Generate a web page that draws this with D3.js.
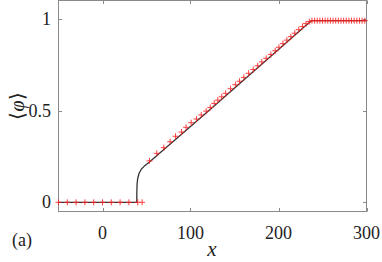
<!DOCTYPE html>
<html><head><meta charset="utf-8">
<script src="https://cdn.jsdelivr.net/npm/d3@7"></script>
<style>body{margin:0;background:#fff}</style>
</head><body>
<script>
// Data
const lineX = [-50, 39, 39, 39.3, 40, 41.5, 44, 48, 53, 120, 200, 228, 232, 235, 238, 300];
const lineY = [0, 0, 0.05, 0.1, 0.13, 0.157, 0.18, 0.2, 0.218, 0.497, 0.833, 0.951, 0.968, 0.98, 0.99, 0.99];
const crossX = [-50, -40, -30, -20, -10, 0, 10, 20, 30, 40, 45,
  53.4, 61.7, 69.7, 76.9, 83, 89.8, 95, 100.8, 106.8, 112.2, 117.8,
  122.5, 127, 131, 135.5, 140, 145.5, 151, 155.7, 160.6, 166, 171.3, 176.3, 181, 186, 191.3, 196.3, 200.5,
  205, 209.5, 214, 218.5, 223, 227.3, 231.3, 235,
  238, 241, 244, 247, 250, 253, 256, 259, 262, 265, 268, 271, 274, 277, 280, 283, 286, 289, 292, 295, 298];
const crossY = [0, 0, 0, 0, 0, 0, 0, 0, 0, 0, 0,
  0.226, 0.267, 0.298, 0.33, 0.36, 0.383, 0.409, 0.434, 0.454, 0.476, 0.497,
  0.517, 0.539, 0.557, 0.575, 0.594, 0.619, 0.641, 0.660, 0.681, 0.703, 0.724, 0.744, 0.765, 0.785, 0.806, 0.826, 0.845,
  0.865, 0.884, 0.903, 0.922, 0.941, 0.958, 0.974, 0.985,
  0.99, 0.99, 0.99, 0.99, 0.99, 0.99, 0.99, 0.99, 0.99, 0.99, 0.99, 0.99, 0.99, 0.99, 0.99, 0.99, 0.99, 0.99, 0.99, 0.99, 0.99];
const xTicks = [0, 100, 200, 300];
const yTicks = [0, 0.5, 1];
const yTickLabels = ["0", "0.5", "1"];

const W = 382, H = 262;
const L = 58.5, R = 366.5, T = 0.5, B = 211.5;
const FONT = '"Times New Roman", "Liberation Serif", serif';
const svg = d3.select("body").append("svg").attr("width", W).attr("height", H)
  .style("font-family", FONT);
const x = d3.scaleLinear().domain([-50, 300]).range([L, R]);
const y = d3.scaleLinear().domain([-0.05, 1.1]).range([B, T]);
const axCol = "#8a8a8a";

// box
svg.append("rect").attr("x", L).attr("y", T).attr("width", R - L).attr("height", B - T)
  .attr("fill", "none").attr("stroke", axCol).attr("stroke-width", 1);

const tl = 3.5;
const g = svg.append("g").attr("stroke", axCol).attr("stroke-width", 1);
xTicks.forEach(t => {
  const px = Math.round(x(t)) + 0.5;
  g.append("line").attr("x1", px).attr("x2", px).attr("y1", B).attr("y2", B - tl);
  g.append("line").attr("x1", px).attr("x2", px).attr("y1", T).attr("y2", T + tl);
});
yTicks.forEach(t => {
  const py = Math.round(y(t)) + 0.5;
  g.append("line").attr("x1", L).attr("x2", L + tl).attr("y1", py).attr("y2", py);
  g.append("line").attr("x1", R).attr("x2", R - tl).attr("y1", py).attr("y2", py);
});

function txt(sel) {
  return sel.style("font-family", FONT).attr("fill", "#222");
}

// tick labels
xTicks.forEach(d => {
  txt(svg.append("text")).attr("x", x(d)).attr("y", 239).attr("text-anchor", "middle")
    .style("font-size", "18px").text(String(d));
});
yTicks.forEach((d, i) => {
  txt(svg.append("text")).attr("x", 51).attr("y", y(d) + 6).attr("text-anchor", "end")
    .style("font-size", "18px").text(yTickLabels[i]);
});

// axis labels
txt(svg.append("text")).attr("x", 212).attr("y", 256).attr("text-anchor", "middle")
  .style("font-size", "21px").style("font-style", "italic").text("x");
const yl = txt(svg.append("text")).attr("transform", "translate(24,106) rotate(-90)").attr("text-anchor", "middle")
  .style("font-size", "20px");
yl.append("tspan").text("⟨");
yl.append("tspan").style("font-style", "italic").text("φ");
yl.append("tspan").text("⟩");
txt(svg.append("text")).attr("x", 12).attr("y", 246).style("font-size", "18px").text("(a)");

// line
const pts = lineX.map((d, i) => [d, lineY[i]]);
svg.append("path").attr("d", d3.line().x(d => x(d[0])).y(d => y(d[1]))(pts))
  .attr("fill", "none").attr("stroke", "#333").attr("stroke-width", 1.3);

// crosses
const cs = 3;
const cg = svg.append("g").attr("stroke", "#ff2020").attr("stroke-width", 1).attr("opacity", 0.85);
crossX.forEach((d, i) => {
  const px = x(d), py = y(crossY[i]);
  cg.append("path").attr("d", `M${px - cs},${py}H${px + cs}M${px},${py - cs}V${py + cs}`);
});
</script>
</body></html>
